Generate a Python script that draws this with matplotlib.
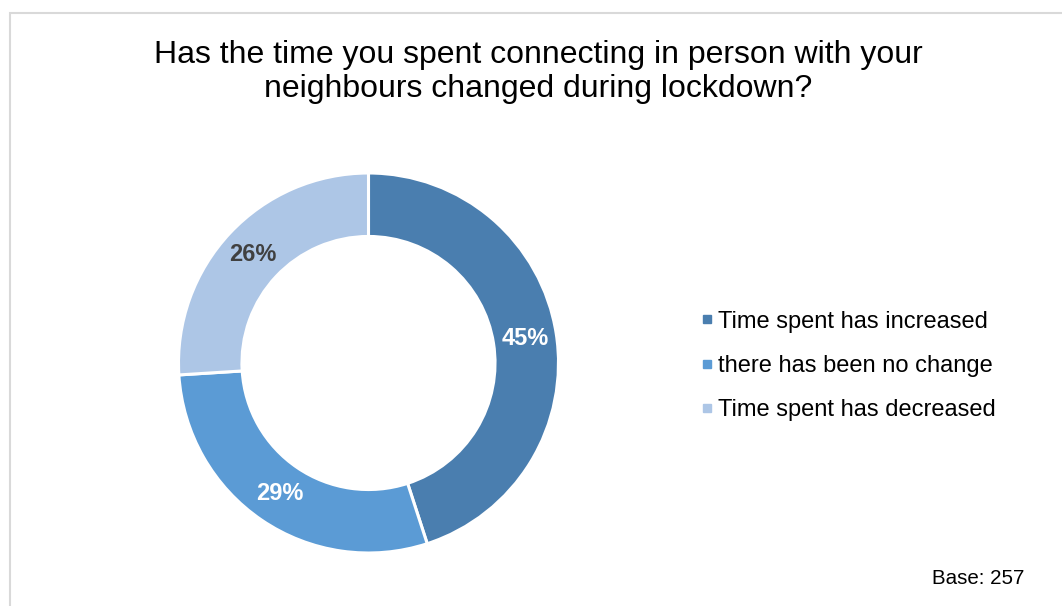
import matplotlib
matplotlib.use("Agg")
import matplotlib.pyplot as plt
from matplotlib.lines import Line2D
from matplotlib.patches import Rectangle

plt.rcParams['font.family'] = ['Liberation Sans', 'DejaVu Sans']

# Survey responses
categories = ["Time spent has increased", "there has been no change", "Time spent has decreased"]
shares = [45, 29, 26]
colors = ["#4A7EAF", "#5B9BD5", "#ADC6E6"]
label_colors = ["white", "white", "#404040"]
title = "Has the time you spent connecting in person with your\nneighbours changed during lockdown?"
base_note = "Base: 257"

W, H = 1062, 606
fig = plt.figure(figsize=(W / 100, H / 100), dpi=100)

# light grey frame around the chart area
fig.patches.append(Rectangle((10 / W, -0.1), 1.2, (H - 13) / H + 0.1,
                             transform=fig.transFigure, fill=False,
                             edgecolor="#D9D9D9", linewidth=1.5))

# donut axes: centre (368.5, 363) px from top, outer radius 190 px
cx, cy, r = 368.5, 363, 190
ax = fig.add_axes([(cx - r) / W, (H - cy - r) / H, 2 * r / W, 2 * r / H])
wedges, texts, autotexts = ax.pie(
    shares, colors=colors, startangle=90, counterclock=False,
    radius=1.0, autopct=lambda p: f"{p:.0f}%", pctdistance=0.833,
    wedgeprops=dict(width=0.334, edgecolor="white", linewidth=2.2),
    textprops=dict(fontsize=17, fontweight="bold"))
for t, c in zip(autotexts, label_colors):
    t.set_color(c)
ax.set_xlim(-1, 1)
ax.set_ylim(-1, 1)
ax.set_aspect("equal")
ax.axis("off")

fig.text(538 / W, 1 - 72 / H, title, ha="center", va="center",
         fontsize=23, linespacing=1.15, color="black")

handles = [Line2D([0], [0], marker="s", linestyle="none", markersize=6,
                  markerfacecolor=c, markeredgecolor=c) for c in colors]
fig.legend(handles, categories, loc="center left",
           bbox_to_anchor=(691 / W, 1 - 366 / H), frameon=False,
           fontsize=17, handlelength=0.55, handletextpad=0.2,
           labelspacing=0.95, borderaxespad=0)

fig.text(1024 / W, 1 - 578 / H, base_note, ha="right", va="center",
         fontsize=14.8, color="black")

fig.savefig("out.png", dpi=100, facecolor="white")
